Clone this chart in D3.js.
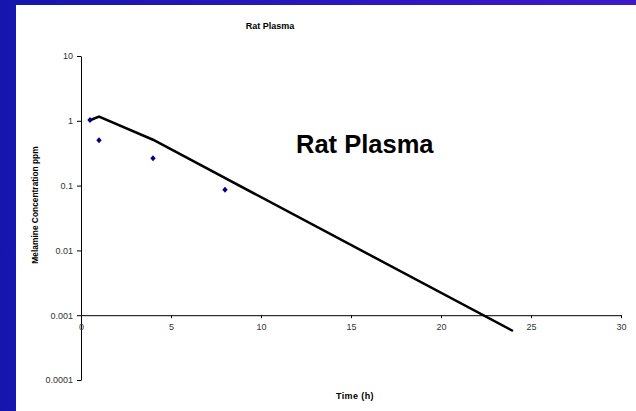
<!DOCTYPE html>
<html>
<head>
<meta charset="utf-8">
<script src="https://cdn.jsdelivr.net/npm/d3@7"></script>
<style>
  html, body { margin: 0; padding: 0; background: #fff; }
  svg { display: block; }
  text { font-family: Arial, "Liberation Sans", sans-serif; }
</style>
</head>
<body>
<svg id="chart" width="636" height="411"></svg>
<script>
// Observed plasma concentrations (ppm) by sampling time (h)
const obsTimes = [0.5, 1, 4, 8];
const obsValues = [1.03, 0.50, 0.265, 0.086];

// Model curve
const fitTimes = [0.5, 1, 4, 24];
const fitValues = [1.02, 1.16, 0.51, 0.00057];

const xTicks = [0, 5, 10, 15, 20, 25, 30];
const yTicks = [0.0001, 0.001, 0.01, 0.1, 1, 10];
const yTickLabels = ["0.0001", "0.001", "0.01", "0.1", "1", "10"];

const svg = d3.select("#chart");
const W = 636, H = 411;

// Slide background with white chart panel
const defs = svg.append("defs");
const grad = defs.append("linearGradient").attr("id", "bg")
  .attr("x1", "0%").attr("x2", "100%").attr("y1", "0%").attr("y2", "0%");
grad.append("stop").attr("offset", "0%").attr("stop-color", "#1616ae");
grad.append("stop").attr("offset", "100%").attr("stop-color", "#3e18c8");
svg.append("rect").attr("width", W).attr("height", H).attr("fill", "url(#bg)");
svg.append("rect").attr("x", 16).attr("y", 5).attr("width", W - 16).attr("height", H - 5).attr("fill", "#fff");

const x = d3.scaleLinear().domain([0, 30]).range([81, 621]);
const y = d3.scaleLog().domain([0.0001, 10]).range([380, 56]);

// Y axis
const yAxis = d3.axisLeft(y)
  .tickValues(yTicks)
  .tickFormat((d, i) => yTickLabels[i])
  .tickSize(4)
  .tickSizeOuter(0)
  .tickPadding(4);
const gy = svg.append("g").attr("transform", `translate(${x(0)},0)`).call(yAxis);
gy.select(".domain").attr("stroke", "#000");
gy.selectAll(".tick line").attr("stroke", "#000");
gy.selectAll(".tick text").attr("fill", "#333").attr("font-size", 9)
  .style("font-family", "Arial, 'Liberation Sans', sans-serif");

// X axis crossing at 0.001
const xAxis = d3.axisBottom(x)
  .tickValues(xTicks)
  .tickFormat(d3.format("d"))
  .tickSize(3)
  .tickSizeOuter(0)
  .tickPadding(5);
const gx = svg.append("g").attr("transform", `translate(0,${y(0.001)})`).call(xAxis);
gx.select(".domain").attr("stroke", "#000");
gx.selectAll(".tick line").attr("stroke", "#000");
gx.selectAll(".tick text").attr("fill", "#333").attr("font-size", 9)
  .style("font-family", "Arial, 'Liberation Sans', sans-serif");

// Model line
const line = d3.line().x(d => x(d[0])).y(d => y(d[1]));
svg.append("path")
  .datum(fitTimes.map((t, i) => [t, fitValues[i]]))
  .attr("d", line)
  .attr("fill", "none")
  .attr("stroke", "#000")
  .attr("stroke-width", 2.5)
  .attr("stroke-linejoin", "miter");

// Observed points as diamonds
svg.append("g").selectAll("path")
  .data(obsTimes.map((t, i) => [t, obsValues[i]]))
  .join("path")
  .attr("transform", d => `translate(${x(d[0])},${y(d[1])})`)
  .attr("d", "M0,-3L2.7,0L0,3L-2.7,0Z")
  .attr("fill", "#000080");

// Titles
svg.append("text").attr("x", 270).attr("y", 29)
  .attr("text-anchor", "middle").attr("font-size", 9).attr("font-weight", "bold")
  .text("Rat Plasma");

svg.append("text").attr("x", 296).attr("y", 153)
  .attr("font-size", 25.5).attr("font-weight", "bold")
  .text("Rat Plasma");

svg.append("text").attr("x", 355).attr("y", 399)
  .attr("text-anchor", "middle").attr("font-size", 9).attr("font-weight", "bold")
  .attr("letter-spacing", 0.4)
  .text("Time (h)");

svg.append("text")
  .attr("transform", "translate(38,205) rotate(-90)")
  .attr("text-anchor", "middle").attr("font-size", 8.4).attr("font-weight", "bold")
  .text("Melamine Concentration ppm");
</script>
</body>
</html>
